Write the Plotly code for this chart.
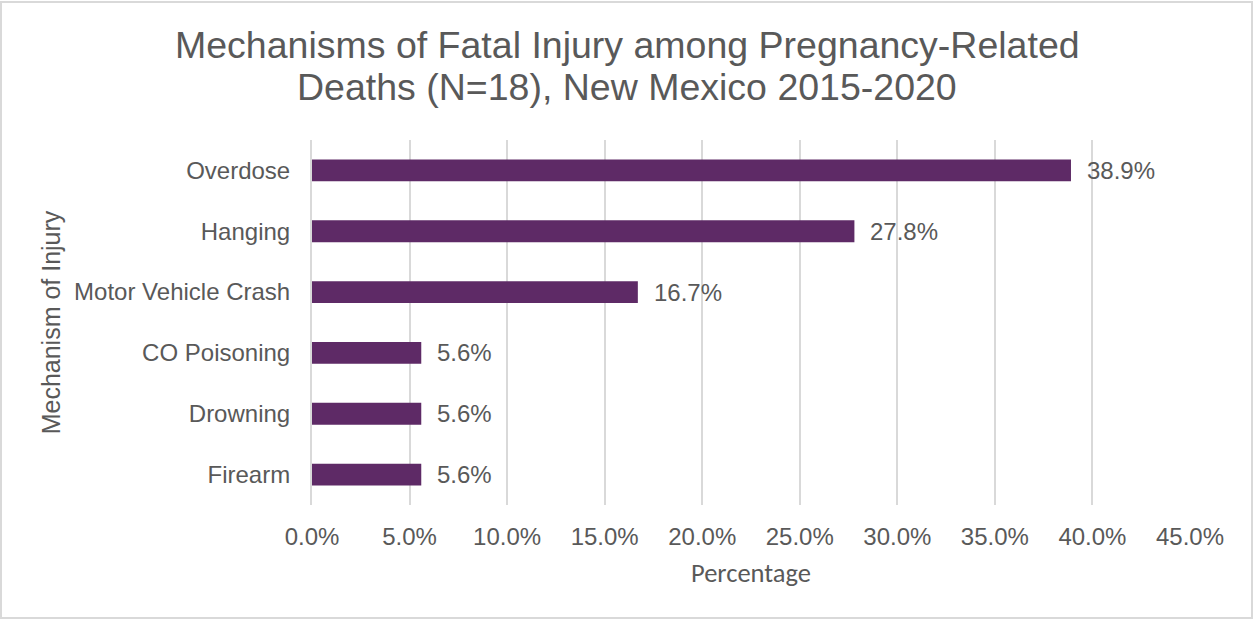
import plotly.graph_objects as go

categories = ["Overdose", "Hanging", "Motor Vehicle Crash", "CO Poisoning", "Drowning", "Firearm"]
values = [38.9, 27.8, 16.7, 5.6, 5.6, 5.6]
tick_vals = [0, 5, 10, 15, 20, 25, 30, 35, 40, 45]
tick_text = ["0.0%", "5.0%", "10.0%", "15.0%", "20.0%", "25.0%", "30.0%", "35.0%", "40.0%", "45.0%"]
labels = [f"{v:.1f}%" for v in values]
title_lines = ["Mechanisms of Fatal Injury among Pregnancy-Related",
               "Deaths (N=18), New Mexico 2015-2020"]

W, H = 1254, 619
ML, MR, MT, MB = 312, 64, 140, 114
GRAY = "#595959"
ARIAL = "Liberation Sans, Arial, sans-serif"
CALIBRI = "Carlito, Lato, sans-serif"

fig = go.Figure(go.Bar(
    x=values, y=categories, orientation="h",
    marker=dict(color="#5E2A66", line=dict(width=0)),
    hoverinfo="skip",
))

for v, c, t in zip(values, categories, labels):
    fig.add_annotation(x=v, y=c, text=t, showarrow=False, xanchor="left",
                       xshift=14, font=dict(family=ARIAL, size=24, color=GRAY))

pw = W - ML - MR
ph = H - MT - MB

# title lines (centres at y=45 and y=87 px)
for line, ypx in zip(title_lines, [45, 87]):
    fig.add_annotation(text=line, xref="paper", yref="paper",
                       x=(W / 2 - ML) / pw, y=(H - MB - ypx) / ph,
                       xanchor="center", yanchor="middle", showarrow=False,
                       font=dict(family=ARIAL, size=37.5, color=GRAY))

fig.add_shape(type="rect", xref="paper", yref="paper",
              x0=(-ML + 1) / pw, x1=(pw + MR - 2) / pw,
              y0=(-MB + 1) / ph, y1=(ph + MT - 2) / ph,
              line=dict(color="#D9D9D9", width=2), layer="below")

fig.update_layout(
    width=W, height=H,
    margin=dict(l=ML, r=MR, t=MT, b=MB, pad=0),
    paper_bgcolor="white", plot_bgcolor="white",
    bargap=0.64,
    showlegend=False,
    xaxis=dict(
        range=[0, 45], tickvals=tick_vals, ticktext=tick_text,
        showgrid=True, gridcolor="#D9D9D9", gridwidth=1.5,
        zeroline=False, showline=False, ticks="",
        ticklabelstandoff=15,
        tickfont=dict(family=ARIAL, size=24, color=GRAY),
        title=dict(text="Percentage", font=dict(family=CALIBRI, size=26.5, color=GRAY), standoff=14),
        fixedrange=True,
    ),
    yaxis=dict(
        autorange="reversed", showgrid=False, zeroline=False,
        showline=True, linecolor="#D9D9D9", linewidth=2, ticks="",
        ticklabelstandoff=15,
        tickfont=dict(family=ARIAL, size=24, color=GRAY),
        title=dict(text="Mechanism of Injury", font=dict(family=ARIAL, size=25, color=GRAY), standoff=6),
        fixedrange=True,
    ),
)

fig.write_html("out.html", config={"displayModeBar": False},
               post_script="document.body.style.margin='0';")
